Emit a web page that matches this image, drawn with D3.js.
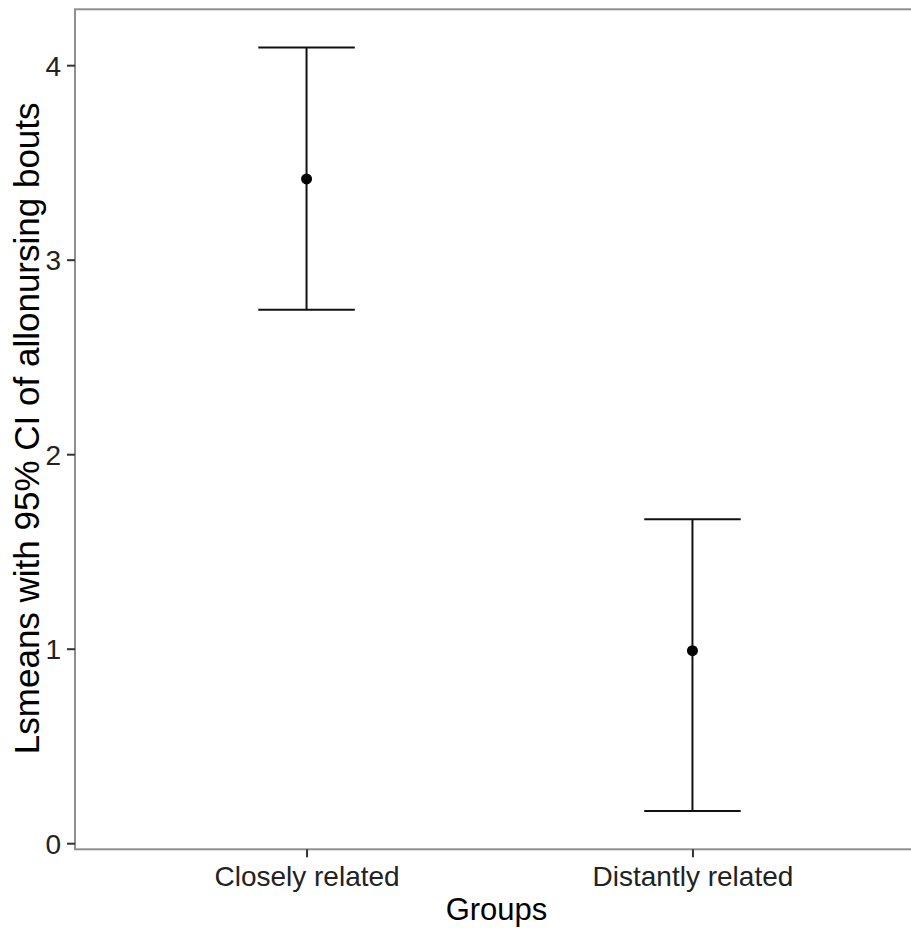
<!DOCTYPE html>
<html>
<head>
<meta charset="utf-8">
<script src="https://cdn.jsdelivr.net/npm/d3@7"></script>
<style>
  html, body { margin: 0; padding: 0; background: #fff; }
  svg { display: block; font-family: "Liberation Sans", Arial, sans-serif; }
</style>
</head>
<body>
<svg id="chart" width="911" height="928"></svg>
<script>
// Least-squares means with 95% confidence intervals per group
const groups = ["Closely related", "Distantly related"];
const lsmeans = [3.415, 0.99];
const lowerCI = [2.742, 0.165];
const upperCI = [4.091, 1.665];
const yTicks = [0, 1, 2, 3, 4];

const rows = groups.map((g, i) => ({ group: g, mean: lsmeans[i], lo: lowerCI[i], hi: upperCI[i] }));

const svg = d3.select("#chart");
const panel = { left: 75, right: 924, top: 9.3, bottom: 849.3 };

const x = d3.scalePoint()
  .domain(groups)
  .range([panel.left, panel.right])
  .padding(0.6);

// Continuous axis expanded by 5% of the data range on each side
const yMin = d3.min(lowerCI), yMax = d3.max(upperCI);
const pad = (yMax - yMin) * 0.05;
const y = d3.scaleLinear()
  .domain([yMin - pad, yMax + pad])
  .range([panel.bottom, panel.top]);

const capHalf = x.step() * 0.125;

// Panel border
svg.append("rect")
  .attr("x", panel.left)
  .attr("y", panel.top)
  .attr("width", panel.right - panel.left)
  .attr("height", panel.bottom - panel.top)
  .attr("fill", "none")
  .attr("stroke", "#8f8f8f")
  .attr("stroke-width", 2);

// Y axis
const yAxis = svg.append("g")
  .attr("transform", `translate(${panel.left},0)`)
  .call(d3.axisLeft(y).tickValues(yTicks).tickFormat(d3.format("d")).tickSize(8).tickPadding(6));
yAxis.select(".domain").remove();
yAxis.selectAll(".tick line").attr("stroke", "#333").attr("stroke-width", 2);
yAxis.selectAll(".tick text")
  .attr("fill", "#222")
  .style("font-size", "28px")
  .attr("dy", "0.36em");

// X axis
const xAxis = svg.append("g")
  .attr("transform", `translate(0,${panel.bottom})`)
  .call(d3.axisBottom(x).tickSize(8).tickPadding(10));
xAxis.select(".domain").remove();
xAxis.selectAll(".tick line").attr("stroke", "#333").attr("stroke-width", 2);
xAxis.selectAll(".tick text")
  .attr("fill", "#222")
  .style("font-size", "28px")
  .attr("dy", "0.68em");

// Error bars
const bars = svg.append("g").selectAll("g.bar")
  .data(rows)
  .join("g")
  .attr("class", "bar");

bars.append("line")
  .attr("x1", d => x(d.group)).attr("x2", d => x(d.group))
  .attr("y1", d => y(d.lo)).attr("y2", d => y(d.hi))
  .attr("stroke", "#111").attr("stroke-width", 2);
bars.append("line")
  .attr("x1", d => x(d.group) - capHalf).attr("x2", d => x(d.group) + capHalf)
  .attr("y1", d => y(d.hi)).attr("y2", d => y(d.hi))
  .attr("stroke", "#111").attr("stroke-width", 2);
bars.append("line")
  .attr("x1", d => x(d.group) - capHalf).attr("x2", d => x(d.group) + capHalf)
  .attr("y1", d => y(d.lo)).attr("y2", d => y(d.lo))
  .attr("stroke", "#111").attr("stroke-width", 2);

// Point estimates
bars.append("circle")
  .attr("cx", d => x(d.group))
  .attr("cy", d => y(d.mean))
  .attr("r", 5.5)
  .attr("fill", "#000");

// Axis titles
svg.append("text")
  .attr("x", (panel.left + 922) / 2 - 2)
  .attr("y", 920)
  .attr("text-anchor", "middle")
  .style("font-size", "31px")
  .attr("fill", "#000")
  .text("Groups");

svg.append("text")
  .attr("transform", `translate(39,${(panel.top + panel.bottom) / 2 - 1}) rotate(-90)`)
  .attr("text-anchor", "middle")
  .style("font-size", "35px")
  .attr("fill", "#000")
  .text("Lsmeans with 95% CI of allonursing bouts");
</script>
</body>
</html>
